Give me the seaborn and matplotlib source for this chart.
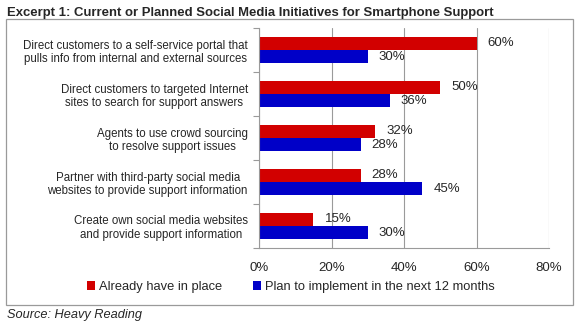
import numpy as np
import pandas as pd
import matplotlib
matplotlib.use("Agg")
import matplotlib.pyplot as plt
import seaborn as sns
from matplotlib.patches import Rectangle, Patch
from matplotlib.ticker import FixedLocator

categories = [
    "Direct customers to a self-service portal that\npulls info from internal and external sources",
    "Direct customers to targeted Internet\nsites to search for support answers",
    "Agents to use crowd sourcing\nto resolve support issues",
    "Partner with third-party social media\nwebsites to provide support information",
    "Create own social media websites\nand provide support information",
]
series_names = ["Already have in place", "Plan to implement in the next 12 months"]
already = [60, 50, 32, 28, 15]
plan = [30, 36, 28, 45, 30]
xticks = [0, 20, 40, 60, 80]
xticklabels = ["0%", "20%", "40%", "60%", "80%"]
title = "Excerpt 1: Current or Planned Social Media Initiatives for Smartphone Support"
source = "Source: Heavy Reading"

red = "#D20000"
blue = "#0000C8"
grey = "#9A9A9A"

df = pd.DataFrame({
    "category": categories * 2,
    "series": [series_names[0]] * 5 + [series_names[1]] * 5,
    "value": already + plan,
})

sns.set_theme(style="white")
plt.rcParams["font.family"] = ["Liberation Sans", "DejaVu Sans"]

W, H = 580, 328
fig = plt.figure(figsize=(W / 100, H / 100), dpi=100)
ax = fig.add_axes([259 / W, 1 - 248 / H, (549 - 259) / W, (248 - 28) / H])

sns.barplot(data=df, y="category", x="value", hue="series", orient="h",
            palette=[red, blue], saturation=1, width=0.6, ax=ax, legend=False,
            order=categories, hue_order=series_names, linewidth=0)

ax.set_xlim(0, 80)
ax.set_ylim(4.5, -0.5)
ax.set_xlabel("")
ax.set_ylabel("")
ax.set_xticks(xticks)
ax.set_xticklabels(xticklabels, fontsize=9.5)
ax.tick_params(axis="x", direction="out", length=4, width=0.8, color=grey, pad=6)
ax.grid(axis="x", color=grey, linewidth=0.8)
ax.grid(axis="y", visible=False)
ax.set_axisbelow(True)

ax.tick_params(axis="y", which="major", length=0, pad=8)
ax.yaxis.set_minor_locator(FixedLocator(np.arange(-0.5, 5, 1)))
ax.tick_params(axis="y", which="minor", direction="out", length=4, width=0.8, color=grey, left=True)
for lab in ax.get_yticklabels():
    lab.set_multialignment("center")
    lab.set_fontsize(8.3)
    lab.set_linespacing(1.2)

for s in ["top", "right"]:
    ax.spines[s].set_visible(False)
for s in ["left", "bottom"]:
    ax.spines[s].set_color(grey)
    ax.spines[s].set_linewidth(0.8)

for cont in ax.containers:
    ax.bar_label(cont, labels=[f"{int(round(v))}%" for v in cont.datavalues],
                 padding=8, fontsize=9.5)

fig.text(7 / W, 1 - 13 / H, title, fontsize=9.45, fontweight="bold", va="center", ha="left")
fig.patches.append(Rectangle((6 / W, 1 - 305 / H), (573 - 6) / W, (305 - 19) / H,
                             transform=fig.transFigure, fill=False, edgecolor=grey, linewidth=0.9))
fig.text(7 / W, 1 - 315 / H, source, fontsize=9.2, style="italic", va="center", ha="left")

handles = [Patch(facecolor=red, edgecolor="none"), Patch(facecolor=blue, edgecolor="none")]
fig.legend(handles, series_names, loc="center", bbox_to_anchor=(291 / W, 1 - 287 / H),
           ncol=2, frameon=False, fontsize=9.3, handlelength=0.6, handleheight=0.6,
           handletextpad=0.3, columnspacing=2.4)

fig.savefig("out.png", dpi=100)
